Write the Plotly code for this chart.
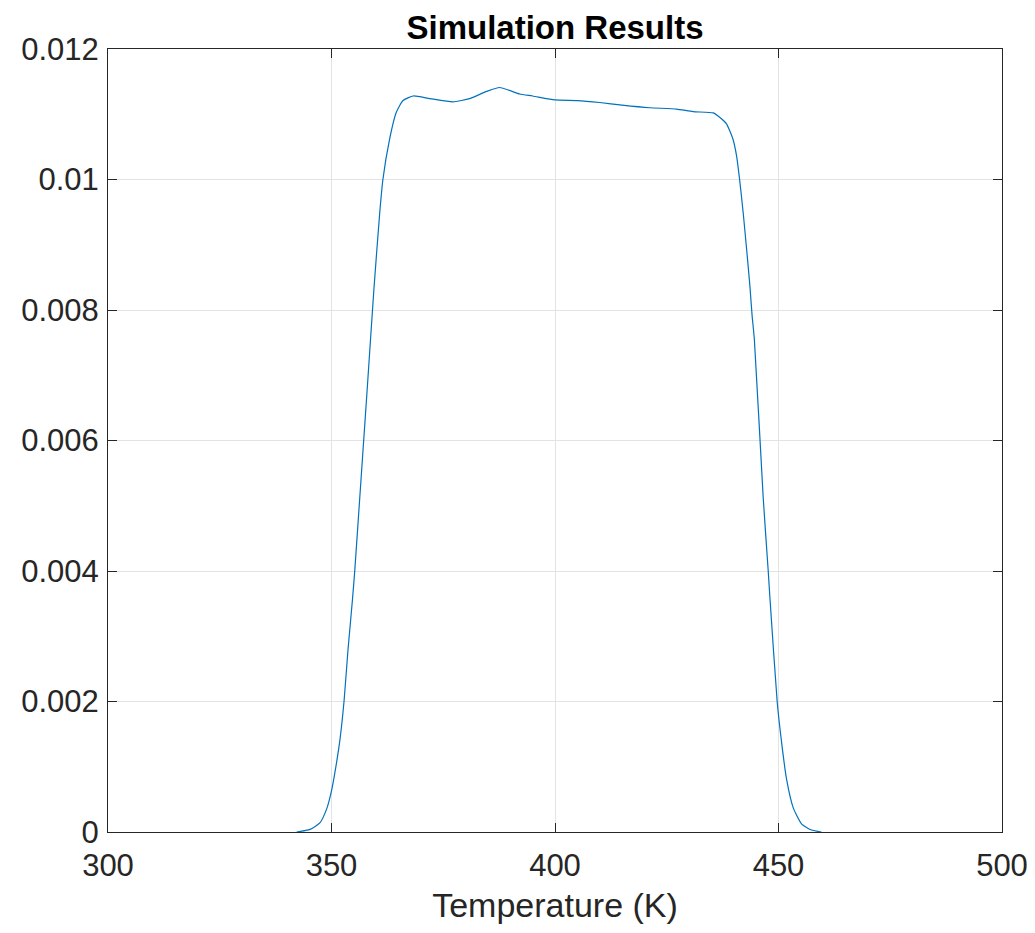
import plotly.graph_objects as go

# Data
temperature = [342.2, 345.2, 347.4, 348.9, 350.0, 351.0, 351.9, 352.8, 353.7, 354.7, 355.2, 356.3,
               357.0, 358.0, 359.5, 360.8, 361.5, 363.0, 364.5, 366.0, 368.3, 372.0, 377.2,
               380.9, 384.7, 387.6, 392.1, 395.0, 400.0, 405.0, 410.0, 415.0, 421.2, 427.2,
               430.9, 435.4, 436.9, 438.4, 439.8, 440.6, 441.3, 442.1, 442.8, 443.6, 444.1,
               444.6, 446.6, 447.7, 448.1, 449.7, 450.7, 451.8, 453.3, 455.2, 457.4, 459.6]
density = [0.0, 0.00004, 0.00014, 0.00035, 0.00063, 0.00101, 0.00142, 0.0020, 0.0028, 0.00357, 0.0040, 0.0051,
           0.0058, 0.0068, 0.00833, 0.0095, 0.0100, 0.01062, 0.01103, 0.01121, 0.01128, 0.01124, 0.01119,
           0.01124, 0.01135, 0.01141, 0.01131, 0.01128, 0.01122, 0.01121, 0.01118, 0.01114, 0.01110, 0.01108,
           0.01104, 0.01102, 0.01095, 0.01085, 0.01062, 0.01037, 0.0100, 0.00949, 0.00898, 0.00837, 0.00791,
           0.00755, 0.0051, 0.0040, 0.00357, 0.0020, 0.00137, 0.00081, 0.00037, 0.00012, 0.00003, 0.0]

x_ticks = [300, 350, 400, 450, 500]
y_ticks = [0, 0.002, 0.004, 0.006, 0.008, 0.01, 0.012]
y_tick_labels = ["0", "0.002", "0.004", "0.006", "0.008", "0.01", "0.012"]

FONT = "Liberation Sans, Arial, Helvetica, sans-serif"

fig = go.Figure()
fig.add_trace(go.Scatter(x=temperature, y=density, mode="lines",
                         line=dict(color="#0072BD", width=1.2, shape="spline", smoothing=0.5),
                         showlegend=False))

axis_common = dict(showline=True, linecolor="#262626", linewidth=1, mirror="allticks",
                   ticks="inside", ticklen=9, tickcolor="#262626", tickwidth=1,
                   showgrid=True, gridcolor="#e3e3e3", gridwidth=1, zeroline=False,
                   ticklabeloverflow="allow",
                   tickfont=dict(family=FONT, size=31, color="#262626"))

fig.update_xaxes(range=[300, 500], tickvals=x_ticks, ticklabelstandoff=6,
                 title=dict(text="Temperature (K)", font=dict(family=FONT, size=34, color="#262626"),
                            standoff=10),
                 **axis_common)
fig.update_yaxes(range=[0, 0.012], tickvals=y_ticks, ticktext=y_tick_labels, ticklabelstandoff=2,
                 **axis_common)

fig.update_layout(
    width=1027, height=917,
    margin=dict(l=100, r=33, t=41, b=93, autoexpand=False),
    paper_bgcolor="white", plot_bgcolor="white",
    title=dict(text="<b>Simulation Results</b>", x=0.5, xanchor="center", xref="paper",
               y=1, yref="paper", yanchor="bottom", pad=dict(b=10),
               font=dict(family=FONT, size=33, color="black")),
)

fig.write_html("out.html")
